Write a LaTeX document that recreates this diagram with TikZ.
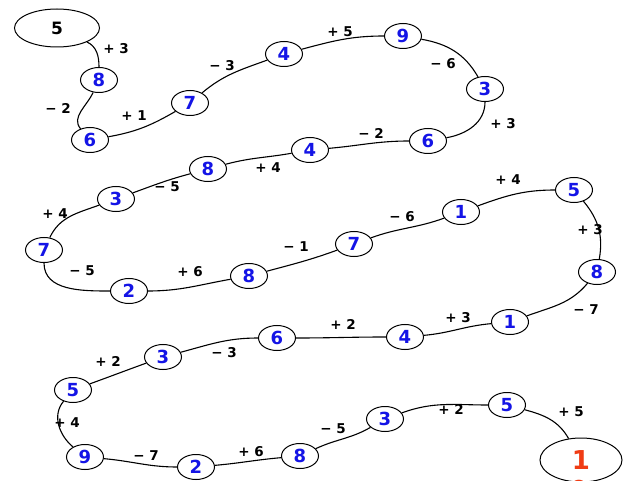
\documentclass[tikz,border=0pt]{standalone}
\usepackage{fontspec}
\setmainfont{Liberation Sans}
\newfontfamily\dejavu{DejaVu Sans}
\usetikzlibrary{shapes.geometric}
\definecolor{numblue}{HTML}{1414E6}
\definecolor{finred}{HTML}{F03C14}
\tikzset{
  num/.style={ellipse, draw, line width=1pt, minimum width=37pt, minimum height=25pt, inner sep=0pt,
    text=numblue, font=\dejavu\bfseries\fontsize{18}{18}\selectfont},
  bignode/.style={ellipse, draw, line width=1pt, inner sep=0pt},
  lab/.style={font=\dejavu\bfseries\fontsize{13.5}{14}\selectfont, inner sep=0pt},
  link/.style={line width=1.1pt}
}
\begin{document}
\begin{tikzpicture}[x=1pt,y=1pt]
\useasboundingbox (0,0) rectangle (640,480);
\fill[white] (0,0) rectangle (640,480);
% nodes
\node[bignode, minimum width=85pt, minimum height=38pt, font=\dejavu\bfseries\fontsize{17}{17}\selectfont] (s) at (57,452) {5};
\node[num] (a1) at (99,400) {8};
\node[num] (a2) at (90,340) {6};
\node[num] (a3) at (190,377) {7};
\node[num] (a4) at (284,426) {4};
\node[num] (a5) at (403,444) {9};
\node[num] (a6) at (485,391) {3};
\node[num] (a7) at (428,339) {6};
\node[num] (a8) at (310,330) {4};
\node[num] (a9) at (208,311) {8};
\node[num] (a10) at (116,281) {3};
\node[num] (a11) at (44,230) {7};
\node[num] (a12) at (129,189) {2};
\node[num] (a13) at (249,204) {8};
\node[num] (a14) at (354,236) {7};
\node[num] (a15) at (461,268) {1};
\node[num] (a16) at (574,290) {5};
\node[num] (a17) at (597,208) {8};
\node[num] (a18) at (510,158) {1};
\node[num] (a19) at (405,143) {4};
\node[num] (a20) at (277,142) {6};
\node[num] (a21) at (163,123) {3};
\node[num] (a22) at (73,90) {5};
\node[num] (a23) at (85,23) {9};
\node[num] (a24) at (196,13) {2};
\node[num] (a25) at (300,24) {8};
\node[num] (a26) at (385,61) {3};
\node[num] (a27) at (507,75) {5};
\node[bignode, minimum width=82pt, minimum height=44pt, text=finred, font=\dejavu\bfseries\fontsize{26}{26}\selectfont] (f) at (581,20) {1};
\node[text=finred, font=\dejavu\bfseries\fontsize{26}{26}\selectfont, anchor=north] (f2) at (579,3) {0};
% links
\draw[link] (s) to[out=-25,in=90] (a1);
\draw[link] (a1) to[out=-115,in=130] (a2);
\draw[link] (a2) to[out=10,in=210] (a3);
\draw[link] (a3) to[out=40,in=200] (a4);
\draw[link] (a4) to[out=15,in=180] (a5);
\draw[link] (a5) to[out=-10,in=120] (a6);
\draw[link] (a6) to[out=-90,in=10] (a7);
\draw[link] (a7) to[out=180,in=5] (a8);
\draw[link] (a8) to[out=190,in=15] (a9);
\draw[link] (a9) to[out=195,in=20] (a10);
\draw[link] (a10) to[out=200,in=65] (a11);
\draw[link] (a11) to[out=-90,in=180] (a12);
\draw[link] (a12) to[out=0,in=190] (a13);
\draw[link] (a13) to[out=15,in=200] (a14);
\draw[link] (a14) to[out=20,in=200] (a15);
\draw[link] (a15) to[out=20,in=180] (a16);
\draw[link] (a16) to[out=-50,in=80] (a17);
\draw[link] (a17) to[out=230,in=20] (a18);
\draw[link] (a18) to[out=185,in=5] (a19);
\draw[link] (a19) to[out=180,in=0] (a20);
\draw[link] (a20) to[out=180,in=15] (a21);
\draw[link] (a21) to[out=200,in=20] (a22);
\draw[link] (a22) to[out=230,in=140] (a23);
\draw[link] (a23) to[out=-5,in=180] (a24);
\draw[link] (a24) to[out=5,in=185] (a25);
\draw[link] (a25) to[out=25,in=210] (a26);
\draw[link] (a26) to[out=20,in=180] (a27);
\draw[link] (a27) to[out=-15,in=120] (f);
% labels
\node[lab] (l1) at (116,431) {+ 3};
\node[lab] (l2) at (58,372) {− 2};
\node[lab] (l3) at (134,364) {+ 1};
\node[lab] (l4) at (222,414) {− 3};
\node[lab] (l5) at (340,448) {+ 5};
\node[lab] (l6) at (443,416) {− 6};
\node[lab] (l7) at (503,356) {+ 3};
\node[lab] (l8) at (371,347) {− 2};
\node[lab] (l9) at (268,312) {+ 4};
\node[lab] (l10) at (167,293) {− 5};
\node[lab] (l11) at (55,266) {+ 4};
\node[lab] (l12) at (82,209) {− 5};
\node[lab] (l13) at (190,208) {+ 6};
\node[lab] (l14) at (296,233) {− 1};
\node[lab] (l15) at (402,263) {− 6};
\node[lab] (l16) at (508,300) {+ 4};
\node[lab] (l17) at (590,250) {+ 3};
\node[lab] (l18) at (586,170) {− 7};
\node[lab] (l19) at (458,162) {+ 3};
\node[lab] (l20) at (343,156) {+ 2};
\node[lab] (l21) at (224,127) {− 3};
\node[lab] (l22) at (108,119) {+ 2};
\node[lab] (l23) at (67,57) {+ 4};
\node[lab] (l24) at (146,24) {− 7};
\node[lab] (l25) at (251,28) {+ 6};
\node[lab] (l26) at (333,51) {− 5};
\node[lab] (l27) at (451,71) {+ 2};
\node[lab] (l28) at (571,68) {+ 5};
\end{tikzpicture}
\end{document}
